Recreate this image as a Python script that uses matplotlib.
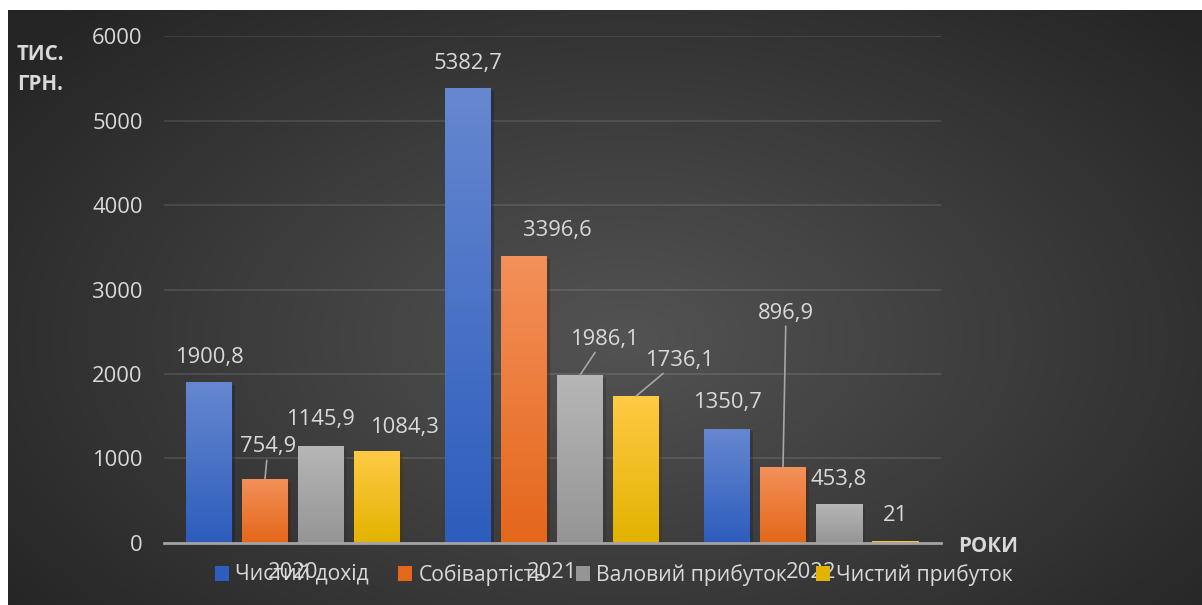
import numpy as np
import matplotlib
matplotlib.use("Agg")
import matplotlib.pyplot as plt
from matplotlib.patches import Patch
import matplotlib.patheffects as pe

plt.rcParams["font.family"] = ["Open Sans", "DejaVu Sans"]

# Дані
years = ["2020", "2021", "2022"]
series = ["Чистий дохід", "Собівартість", "Валовий прибуток", "Чистий прибуток"]
net_income = [1900.8, 5382.7, 1350.7]
cost = [754.9, 3396.6, 896.9]
gross_profit = [1145.9, 1986.1, 453.8]
net_profit = [1084.3, 1736.1, 21]
values = [net_income, cost, gross_profit, net_profit]

# кольори (верх, низ) для градієнта стовпчиків
colors = [("#6687d0", "#2d5dbd"), ("#f39059", "#e4671a"),
          ("#b6b6b6", "#959595"), ("#ffca45", "#e2b300")]

# зміщення підписів (пікселі) і чи потрібна виносна лінія
label_pos = [
    [(0, 25, False), (0, 25, False), (0, 26, False)],
    [(3, 32, True), (33, 26, False), (3, 154, True)],
    [(-1, 26, False), (24, 36, True), (0, 25, False)],
    [(27, 24, False), (43, 36, True), (0, 25, False)],
]

W, H = 1202, 605
fig = plt.figure(figsize=(W / 100, H / 100), dpi=100)
fig.patch.set_facecolor("white")

# фон з радіальним градієнтом
bg = fig.add_axes([8 / W, 0, 1 - 8 / W, 1 - 10 / H])
bg.set_axis_off()
yy, xx = np.mgrid[0:300, 0:600]
r = np.sqrt(((xx - 310) / 390) ** 2 + ((yy - 165) / 230) ** 2)
r = np.clip(r, 0, 1)
c0, c1 = 0x53 / 255, 0x25 / 255
shade = c0 + (c1 - c0) * r
bg.imshow(np.dstack([shade, shade, shade]), aspect="auto", extent=(0, 1, 0, 1))

ax = fig.add_axes([163.5 / W, 1 - 542.7 / H, 777 / W, (542.7 - 36.3) / H])
ax.set_facecolor("none")

stride = 56 / 259
width = 46 / 259
x = np.arange(len(years))

text_col = "#d9d9d9"
fs = 15.8

for i, (vals, (ctop, cbot)) in enumerate(zip(values, colors)):
    pos = x + (i - 1.5) * stride
    bars = ax.bar(pos, vals, width=width, color=cbot, zorder=3,
                  path_effects=[pe.SimplePatchShadow(offset=(2, -2), alpha=0.35),
                                pe.Normal()])
    top = np.array(matplotlib.colors.to_rgb(ctop))
    bot = np.array(matplotlib.colors.to_rgb(cbot))
    grad = np.linspace(0, 1, 64)[:, None] * (bot - top) + top
    grad = grad[:, None, :]
    for b, v, (dx, dy, leader) in zip(bars, vals, label_pos[i]):
        x0 = b.get_x()
        ax.imshow(grad, extent=(x0, x0 + b.get_width(), 0, b.get_height()),
                  aspect="auto", zorder=4)
        txt = f"{v:g}".replace(".", ",")
        props = dict(arrowstyle="-", color="#a6a6a6", lw=1.2,
                     shrinkA=0, shrinkB=0) if leader else None
        ax.annotate(txt, xy=(x0 + b.get_width() / 2, v),
                    xytext=(dx, dy), textcoords="offset pixels",
                    ha="center", va="center", fontsize=fs, color=text_col,
                    arrowprops=props, zorder=6)

ax.set_xlim(-0.5, 2.5)
ax.set_ylim(0, 6000)
ax.set_autoscale_on(False)
ax.set_yticks(np.arange(0, 6001, 1000))
ax.set_xticks(x)
ax.set_xticklabels(years)
ax.tick_params(axis="y", length=0, pad=15, labelsize=fs, labelcolor=text_col)
ax.tick_params(axis="x", length=0, pad=14, labelsize=fs, labelcolor=text_col)
ax.grid(axis="y", color="white", alpha=0.1, lw=1.5, zorder=1)
ax.set_axisbelow(True)
for s in ["top", "right", "left"]:
    ax.spines[s].set_visible(False)
ax.spines["bottom"].set_color("#a3a3a3")
ax.spines["bottom"].set_linewidth(2)
ax.spines["bottom"].set_zorder(5)

fig.text(17 / W, 1 - 54 / H, "ТИС.", fontsize=14.8, fontweight="bold",
         color=text_col, va="center")
fig.text(17 / W, 1 - 85 / H, "ГРН.", fontsize=14.8, fontweight="bold",
         color=text_col, va="center")
fig.text(988 / W, 1 - 546 / H, "РОКИ", fontsize=14.8, fontweight="bold",
         color=text_col, va="center", ha="center")

handles = [Patch(facecolor=c[1], edgecolor="none") for c in colors]
fig.legend(handles, series, loc="center", ncol=4, frameon=False,
           bbox_to_anchor=(614 / W, 1 - 575 / H), fontsize=15.2,
           labelcolor=text_col, handlelength=0.65, handleheight=0.65,
           handletextpad=0.3, columnspacing=1.4, borderaxespad=0)

fig.savefig("out.png", dpi=100, facecolor=fig.get_facecolor())
